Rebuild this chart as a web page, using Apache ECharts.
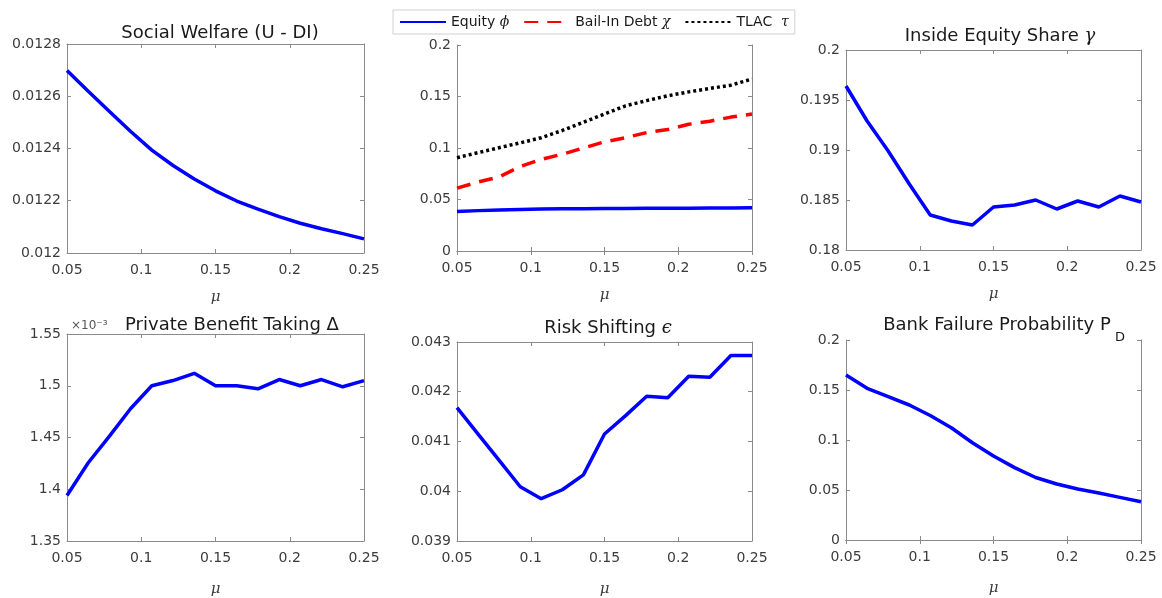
<!DOCTYPE html>
<html>
<head>
<meta charset="utf-8">
<script src="https://cdn.jsdelivr.net/npm/echarts@6/dist/echarts.min.js"></script>
<style>
html, body { margin: 0; padding: 0; background: #fff; }
#main { width: 1162px; height: 598px; }
</style>
</head>
<body>
<div id="main"></div>
<script>
// mu grid (15 points)
var mu = [0.05, 0.0643, 0.0786, 0.0929, 0.1071, 0.1214, 0.1357, 0.15, 0.1643, 0.1786, 0.1929, 0.2071, 0.2214, 0.2357, 0.25];

var welfare = [0.012699, 0.012619, 0.012542, 0.012465, 0.012394, 0.012335, 0.012283, 0.012238, 0.012199, 0.012168, 0.012139, 0.012114, 0.012093, 0.012074, 0.012054];
var equity = [0.0383, 0.0392, 0.0399, 0.0404, 0.0407, 0.0409, 0.0411, 0.0412, 0.0413, 0.0414, 0.0415, 0.0416, 0.0417, 0.0418, 0.0419];
var bailIn = [0.061, 0.067, 0.072, 0.082, 0.089, 0.094, 0.100, 0.106, 0.110, 0.115, 0.118, 0.123, 0.126, 0.130, 0.133];
var tlac = [0.0906, 0.0955, 0.1003, 0.105, 0.110, 0.117, 0.125, 0.133, 0.141, 0.146, 0.1507, 0.1545, 0.1578, 0.161, 0.167];
var gammaShare = [0.1964, 0.1929, 0.1899, 0.1866, 0.1835, 0.1829, 0.1825, 0.1843, 0.1845, 0.1850, 0.1841, 0.1849, 0.1843, 0.1854, 0.1848];
// private benefit, in units of 1e-3
var deltaE3 = [1.394, 1.4256, 1.4513, 1.478, 1.500, 1.505, 1.512, 1.500, 1.500, 1.497, 1.506, 1.500, 1.506, 1.499, 1.505];
var riskShift = [0.04168, 0.04115, 0.04062, 0.04009, 0.03985, 0.04003, 0.04033, 0.04115, 0.04152, 0.04191, 0.04188, 0.04231, 0.04229, 0.04273, 0.04273];
var failProb = [0.165, 0.1517, 0.1433, 0.135, 0.1245, 0.1123, 0.0973, 0.084, 0.0724, 0.0625, 0.056, 0.051, 0.047, 0.0426, 0.0382];

var axisColor = '#8a8a8a';
var labelColor = '#3c3c3c';
var font = 'DejaVu Sans';
var mathFont = 'DejaVu Serif';

function pairs(ys) {
    return mu.map(function (x, i) { return [x, ys[i]]; });
}
function fmt(v) { return String(+v.toFixed(5)); }

var grids = [
    { left: 67, top: 44, width: 297, height: 209 },
    { left: 457, top: 45, width: 295, height: 206 },
    { left: 846, top: 50, width: 295, height: 200 },
    { left: 67, top: 334, width: 297, height: 208 },
    { left: 457, top: 342, width: 295, height: 199 },
    { left: 846, top: 340, width: 295, height: 200 }
];
var yRanges = [
    [0.012, 0.0128, 0.0002],
    [0, 0.2, 0.05],
    [0.18, 0.2, 0.005],
    [1.35, 1.55, 0.05],
    [0.039, 0.043, 0.001],
    [0, 0.2, 0.05]
];

var xAxes = [], yAxes = [];
grids.forEach(function (g, i) {
    var bottomRow = i >= 3;
    var base = {
        gridIndex: i, type: 'value', min: 0.05, max: 0.25, interval: 0.05,
        axisLine: { lineStyle: { color: axisColor, width: 1 } },
        axisTick: { inside: true, length: 4, lineStyle: { color: axisColor } },
        splitLine: { show: false }
    };
    xAxes.push(Object.assign({}, base, {
        position: 'bottom',
        axisLabel: { color: labelColor, fontSize: 14, fontFamily: font, margin: 10, formatter: fmt },
        name: 'μ', nameLocation: 'middle', nameGap: bottomRow ? 41 : 37,
        nameTextStyle: { fontStyle: 'italic', fontSize: 15, color: labelColor, fontFamily: mathFont }
    }));
    xAxes.push(Object.assign({}, base, { position: 'top', axisLabel: { show: false } }));
    var r = yRanges[i];
    var yb = {
        gridIndex: i, type: 'value', min: r[0], max: r[1], interval: r[2],
        axisLine: { show: true, lineStyle: { color: axisColor, width: 1 } },
        axisTick: { show: true, inside: true, length: 4, lineStyle: { color: axisColor } },
        splitLine: { show: false }
    };
    yAxes.push(Object.assign({}, yb, {
        position: 'left',
        axisLabel: { color: labelColor, fontSize: 14, fontFamily: font, margin: 6, formatter: fmt }
    }));
    yAxes.push(Object.assign({}, yb, { position: 'right', axisLabel: { show: false } }));
});

function line(name, i, ys, color, type, width) {
    return {
        name: name, type: 'line', xAxisIndex: i * 2, yAxisIndex: i * 2,
        data: pairs(ys), symbol: 'none', smooth: false, animation: false,
        lineStyle: { color: color, width: width || 3.5, type: type || 'solid' },
        itemStyle: { color: color }
    };
}

var titleRich = {
    t: { fontSize: 18, fontFamily: font, color: '#1a1a1a' },
    m: { fontSize: 18, fontFamily: mathFont, fontStyle: 'italic', color: '#1a1a1a' }
};
var titleStyle = { color: '#1a1a1a', fontSize: 18, fontWeight: 'normal', fontFamily: font, rich: titleRich };

var option = {
    backgroundColor: '#fff',
    animation: false,
    title: [
        { text: 'Social Welfare (U - DI)', left: 215, top: 19, textAlign: 'center', textStyle: titleStyle },
        { text: '{t|Inside Equity Share }{m|γ}', left: 995, top: 22, textAlign: 'center', textStyle: titleStyle },
        { text: '×10⁻³', left: 66, top: 315, textStyle: { color: '#555', fontSize: 12, fontWeight: 'normal', fontFamily: font } },
        { text: 'Private Benefit Taking Δ', left: 227, top: 311, textAlign: 'center', textStyle: titleStyle },
        { text: '{t|Risk Shifting }{m|ϵ}', left: 603, top: 314, textAlign: 'center', textStyle: titleStyle },
        { text: 'Bank Failure Probability P', left: 992, top: 311, textAlign: 'center', textStyle: titleStyle },
        { text: 'D', left: 1110, top: 326, textStyle: { color: '#1a1a1a', fontSize: 13, fontWeight: 'normal', fontFamily: font } }
    ],
    legend: {
        left: 393, top: 10, padding: [5, 6, 5, 6],
        itemWidth: 46, itemHeight: 12, itemGap: 14,
        borderColor: '#d0d0d0', borderWidth: 1, backgroundColor: '#fff',
        itemStyle: { opacity: 0 },
        data: ['Equity', 'Bail-In Debt', 'TLAC'],
        formatter: function (n) {
            if (n === 'Equity') return '{t|Equity }{g|ϕ}';
            if (n === 'Bail-In Debt') return '{t|Bail-In Debt }{g|χ}';
            return '{t|TLAC  }{g|τ}';
        },
        textStyle: {
            color: '#1a1a1a', fontSize: 14, fontFamily: font,
            rich: { t: { fontSize: 14, fontFamily: font, color: '#1a1a1a' }, g: { fontSize: 14, fontStyle: 'italic', fontFamily: mathFont, color: '#1a1a1a' } }
        }
    },
    grid: grids,
    xAxis: xAxes,
    yAxis: yAxes,
    series: [
        line('Social Welfare', 0, welfare, '#0000ff'),
        line('Equity', 1, equity, '#0000ff'),
        line('Bail-In Debt', 1, bailIn, '#ff0000', [14, 9]),
        line('TLAC', 1, tlac, '#000000', [3, 3]),
        line('Inside Equity Share', 2, gammaShare, '#0000ff'),
        line('Private Benefit Taking', 3, deltaE3, '#0000ff'),
        line('Risk Shifting', 4, riskShift, '#0000ff'),
        line('Bank Failure Probability', 5, failProb, '#0000ff')
    ]
};

var chart = echarts.init(document.getElementById('main'));
chart.setOption(option);
window.addEventListener('resize', function () { chart.resize(); });
</script>
</body>
</html>
